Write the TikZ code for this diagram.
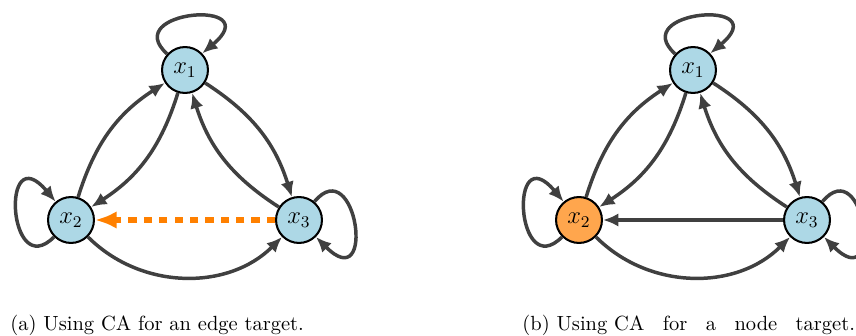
\documentclass[tikz,border=0pt]{standalone}
\usetikzlibrary{arrows.meta}
\definecolor{nodeblue}{HTML}{ADD8E6}
\definecolor{nodeorange}{RGB}{255,166,77}
\definecolor{caorange}{RGB}{255,128,0}
\definecolor{edgegray}{HTML}{404040}
\newcommand{\capgap}{\hspace{9pt}}
\begin{document}
\begin{tikzpicture}[x=0.4878pt,y=0.4878pt,
  state/.style={circle,draw=black,line width=1pt,fill=nodeblue,
    minimum size=22.4pt,inner sep=0pt,font=\large},
  hit/.style={fill=nodeorange},
  link/.style={draw=edgegray,line width=1.7pt,
    -{Latex[length=7.5pt,width=6.5pt]}},
  caflow/.style={draw=caorange,line width=2.6pt,dash pattern=on 4pt off 3.5pt,
    -{Latex[length=10.5pt,width=8.5pt]}},
  caption/.style={anchor=base west,inner sep=0pt,font=\normalsize}]
\useasboundingbox (0,0) rectangle (856,-335);
\clip (0,0) rectangle (856,-335);

% ---------- (a) edge target ----------
\begin{scope}
\node[state] (a1) at (185,-70) {$x_1$};
\node[state] (a2) at (71,-220) {$x_2$};
\node[state] (a3) at (299,-220) {$x_3$};
\draw[link] (a1.138) .. controls +(138:32pt) and +(40:42pt) .. (a1.44);
\draw[link] (a2.225) .. controls +(225:32pt) and +(130:42pt) .. (a2.130);
\draw[link] (a3.50) .. controls +(50:32pt) and +(-45:42pt) .. (a3.-45);
\draw[link] (a1) to[bend left=20] (a2);
\draw[link] (a2) to[bend left=20] (a1);
\draw[link] (a1) to[bend left=20] (a3);
\draw[link] (a3) to[bend left=20] (a1);
\draw[link] (a2) to[bend right=45] (a3);
\draw[caflow] (a3) -- (a2);
\node[caption] (capa) at (10,-330) {(a) Using CA for an edge target.};
\end{scope}

% ---------- (b) node target ----------
\begin{scope}[xshift=508*0.4878pt]
\node[state] (b1) at (185,-70) {$x_1$};
\node[state,hit] (b2) at (71,-220) {$x_2$};
\node[state] (b3) at (299,-220) {$x_3$};
\draw[link] (b1.138) .. controls +(138:32pt) and +(40:42pt) .. (b1.44);
\draw[link] (b2.225) .. controls +(225:32pt) and +(130:42pt) .. (b2.130);
\draw[link] (b3.50) .. controls +(50:32pt) and +(-45:42pt) .. (b3.-45);
\draw[link] (b1) to[bend left=20] (b2);
\draw[link] (b2) to[bend left=20] (b1);
\draw[link] (b1) to[bend left=20] (b3);
\draw[link] (b3) to[bend left=20] (b1);
\draw[link] (b2) to[bend right=45] (b3);
\draw[link] (b3) -- (b2);
\node[caption] (capb) at (14,-330)
  {(b) Using CA\capgap for\capgap a\capgap node\capgap target.};
\end{scope}
\end{tikzpicture}
\end{document}
